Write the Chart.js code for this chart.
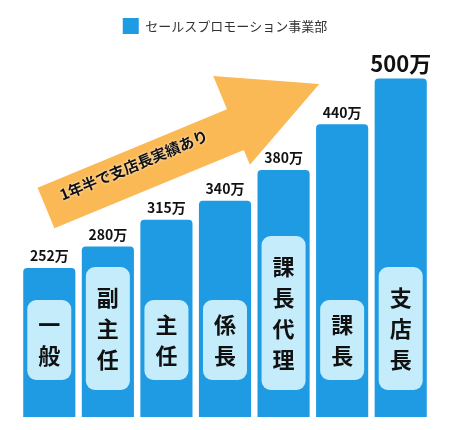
<!DOCTYPE html><html><head><meta charset="utf-8">
<script src="https://cdn.jsdelivr.net/npm/chart.js@4"></script>
<style>html,body{margin:0;background:#fff}#w{width:450px;height:430px}</style></head><body>
<div id="w"><canvas id="c"></canvas></div>
<script>
const categories=['一般','副主任','主任','係長','課長代理','課長','支店長'];
const salaries=[252,280,315,340,380,440,500];
const valueLabels=['252万','280万','315万','340万','380万','440万','500万'];
const seriesName='セールスプロモーション事業部';
const arrowText='1年半で支店長実績あり';
const F='"Noto Sans CJK JP","Noto Sans",sans-serif';
const deco={id:'deco',afterDatasetsDraw(ch){
 const c=ch.ctx,m=ch.getDatasetMeta(0);
 c.save();
 m.data.forEach((b,i)=>{
  const big=i===salaries.length-1;
  c.fillStyle='#111';c.textAlign='center';c.textBaseline='bottom';
  c.font=(big?'bold 22px ':'bold 14px ')+F;
  c.fillText(valueLabels[i],b.x,b.y-(big?4:5));
  const chars=[...categories[i]];
  const n=chars.length,step=31;
  const h=Math.max(80,n*step+30);
  const bottom=n>2?390:380;
  const top=n===2?300:bottom-h;
  const w=44,x=b.x-w/2;
  c.fillStyle='#c5ecfb';c.beginPath();c.roundRect(x,top,w,bottom-top,9);c.fill();
  c.fillStyle='#111';c.font='bold 22px '+F;c.textBaseline='middle';
  const mid=(top+bottom)/2;
  chars.forEach((ch2,k)=>c.fillText(ch2,b.x,mid+(k-(n-1)/2)*step));
 });
 const ang=-22.5*Math.PI/180;
 c.translate(46,208);c.rotate(ang);
 c.fillStyle='#fbb955';c.beginPath();
 c.moveTo(0,-22);c.lineTo(205,-22);c.lineTo(205,-58);c.lineTo(300,-10);c.lineTo(205,38);c.lineTo(205,22);c.lineTo(0,22);c.closePath();c.fill();
 c.fillStyle='#111';c.font='bold 15px '+F;c.textAlign='left';c.textBaseline='middle';
 c.shadowColor='rgba(255,255,255,0.9)';c.shadowBlur=3;
 c.fillText(arrowText,18,-6);
 c.restore();
}};
new Chart(document.getElementById('c'),{type:'bar',
 data:{labels:categories,datasets:[{label:seriesName,data:salaries,backgroundColor:'#1e9be3',borderRadius:4,borderSkipped:'bottom',barPercentage:0.89,categoryPercentage:1}]},
 options:{responsive:true,maintainAspectRatio:false,animation:false,
  layout:{padding:{left:20,right:20,bottom:13,top:10}},
  plugins:{legend:{labels:{color:'#333',font:{size:13,family:F},boxWidth:16,boxHeight:16,padding:8}},tooltip:{enabled:false}},
  scales:{x:{display:false},y:{display:false,min:57,max:545}}},
 plugins:[deco]});
</script></body></html>
